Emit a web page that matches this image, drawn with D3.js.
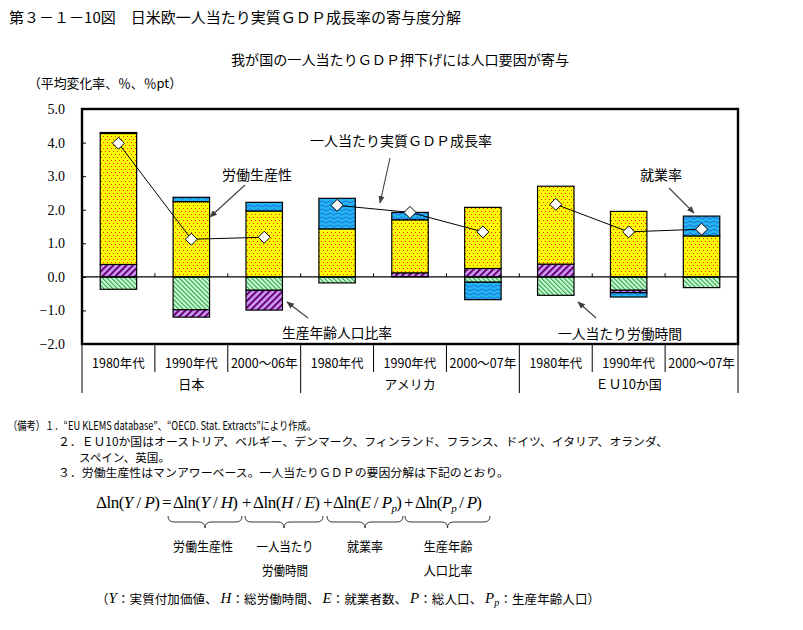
<!DOCTYPE html>
<html>
<head>
<meta charset="utf-8">
<script src="https://cdn.jsdelivr.net/npm/d3@7"></script>
<style>
  body { margin: 0; background: #fff; }
  text { font-family: "Noto Sans CJK JP", sans-serif; fill: #000; }
</style>
</head>
<body>
<script>
// data
var categories = ["1980年代","1990年代","2000～06年","1980年代","1990年代","2000～07年","1980年代","1990年代","2000～07年"];
var groups = ["日本","アメリカ","ＥＵ10か国"];
var hours        = [-0.37,-0.98,-0.40,-0.18, 0.00,-0.16,-0.55,-0.40,-0.32]; // 一人当たり労働時間
var workingAge   = [ 0.37,-0.22,-0.59, 0.00, 0.12, 0.25, 0.38,-0.07, 0.00]; // 生産年齢人口比率
var productivity = [ 3.90, 2.24, 1.96, 1.43, 1.58, 1.82, 2.32, 1.95, 1.22]; // 労働生産性
var employment   = [ 0.03, 0.13, 0.26, 0.91, 0.22,-0.52, 0.00,-0.13, 0.59]; // 就業率
var gdpPerCapita = [ 3.98, 1.12, 1.18, 2.13, 1.92, 1.34, 2.16, 1.34, 1.42]; // 一人当たり実質GDP成長率
var yTicks = [5,4,3,2,1,0,-1,-2];

var width = 803, height = 630;
var svg = d3.select("body").append("svg").attr("width", width).attr("height", height);

var pLeft = 82, pRight = 738, pTop = 109, pBottom = 344;
var xScale = d3.scaleBand().domain(d3.range(categories.length)).range([pLeft, pRight]).paddingInner(0.5).paddingOuter(0.25);
var yScale = d3.scaleLinear().domain([-2, 5]).range([pBottom, pTop]);
var step = xScale.step();

// patterns
var defs = svg.append("defs");
var pDot = defs.append("pattern").attr("id","pDot").attr("patternUnits","userSpaceOnUse").attr("width",4).attr("height",6);
pDot.append("rect").attr("width",4).attr("height",6).attr("fill","#FFFF00");
pDot.append("rect").attr("x",1).attr("y",1).attr("width",1).attr("height",1).attr("fill","#FF2020");
pDot.append("rect").attr("x",3).attr("y",4).attr("width",1).attr("height",1).attr("fill","#FF2020");

var pGreen = defs.append("pattern").attr("id","pGreen").attr("patternUnits","userSpaceOnUse").attr("width",3.2).attr("height",10).attr("patternTransform","rotate(-45)");
pGreen.append("rect").attr("width",3.2).attr("height",10).attr("fill","#CCFFCC");
pGreen.append("rect").attr("width",1.1).attr("height",10).attr("fill","#2E9E5B");

var pPurple = defs.append("pattern").attr("id","pPurple").attr("patternUnits","userSpaceOnUse").attr("width",4.6).attr("height",10).attr("patternTransform","rotate(45)");
pPurple.append("rect").attr("width",4.6).attr("height",10).attr("fill","#CC99FF");
pPurple.append("rect").attr("width",2).attr("height",10).attr("fill","#660066");

var pBlue = defs.append("pattern").attr("id","pBlue").attr("patternUnits","userSpaceOnUse").attr("width",8).attr("height",4);
pBlue.append("rect").attr("width",8).attr("height",4).attr("fill","#1FB8F0");
pBlue.append("path").attr("d","M0,2 Q2,0 4,2 T8,2").attr("fill","none").attr("stroke","#2A5FD8").attr("stroke-width",0.9);

var arrowM = defs.append("marker").attr("id","arr").attr("viewBox","0 0 10 10").attr("refX",9).attr("refY",5)
  .attr("markerWidth",7).attr("markerHeight",7).attr("orient","auto");
arrowM.append("path").attr("d","M0,1 L10,5 L0,9 Z").attr("fill","#404040");

// stacking (Excel style: positives and negatives stacked separately)
var seriesList = [
  {values: hours, fill: "url(#pGreen)"},
  {values: workingAge, fill: "url(#pPurple)"},
  {values: productivity, fill: "url(#pDot)"},
  {values: employment, fill: "url(#pBlue)"}
];
var segs = [];
categories.forEach(function(c, i){
  var pos = 0, neg = 0;
  seriesList.forEach(function(s){
    var v = s.values[i];
    if (v == 0) return;
    if (v > 0) { segs.push({i:i, y0:pos, y1:pos+v, fill:s.fill}); pos += v; }
    else { segs.push({i:i, y0:neg, y1:neg+v, fill:s.fill}); neg += v; }
  });
});

svg.append("g").selectAll("rect").data(segs).enter().append("rect")
  .attr("x", d => xScale(d.i))
  .attr("width", xScale.bandwidth())
  .attr("y", d => yScale(Math.max(d.y0, d.y1)))
  .attr("height", d => Math.abs(yScale(d.y0) - yScale(d.y1)))
  .attr("fill", d => d.fill)
  .attr("stroke", "#000").attr("stroke-width", 1.2);

// zero line + small ticks
svg.append("line").attr("x1",pLeft).attr("x2",pRight).attr("y1",yScale(0)).attr("y2",yScale(0)).attr("stroke","#000").attr("stroke-width",1.4);
svg.append("g").selectAll("line").data(d3.range(1, categories.length)).enter().append("line")
  .attr("x1", d => pLeft + d*step).attr("x2", d => pLeft + d*step)
  .attr("y1", yScale(0) - 3.5).attr("y2", yScale(0)).attr("stroke","#000");

// GDP per capita line, broken between regions
[0,1,2].forEach(function(g){
  var pts = d3.range(g*3, g*3+3);
  svg.append("path").datum(pts)
    .attr("d", d3.line().x(i => xScale(i) + xScale.bandwidth()/2).y(i => yScale(gdpPerCapita[i])))
    .attr("fill","none").attr("stroke","#000").attr("stroke-width",1);
});
svg.append("g").selectAll("path").data(gdpPerCapita).enter().append("path")
  .attr("d","M0,-6 L6,0 L0,6 L-6,0 Z")
  .attr("transform", (d,i) => `translate(${xScale(i) + xScale.bandwidth()/2},${yScale(d)})`)
  .attr("fill","#fff").attr("stroke","#000").attr("stroke-width",1);

// frame
svg.append("rect").attr("x",pLeft).attr("y",pTop).attr("width",pRight-pLeft).attr("height",pBottom-pTop)
  .attr("fill","none").attr("stroke","#000").attr("stroke-width",2.4);

// y axis
var yAxis = d3.axisLeft(yScale).tickValues(yTicks).tickFormat(d3.format(".1f")).tickSizeInner(-4).tickSizeOuter(0).tickPadding(17);
var ya = svg.append("g").attr("transform",`translate(${pLeft},0)`).call(yAxis);
ya.select(".domain").remove();
ya.selectAll("line").attr("stroke","#000");
ya.selectAll("text").style("font-family","'Liberation Serif', serif").style("font-size","14px").attr("fill","#000");

// category table
svg.append("g").selectAll("line").data(d3.range(0, categories.length+1)).enter().append("line")
  .attr("x1", d => pLeft + d*step).attr("x2", d => pLeft + d*step)
  .attr("y1", pBottom).attr("y2", d => d % 3 == 0 ? 393 : 372)
  .attr("stroke","#000").attr("stroke-width",1);
svg.append("g").selectAll("text").data(categories).enter().append("text")
  .attr("x", (d,i) => pLeft + (i+0.5)*step).attr("y", 362)
  .attr("text-anchor","middle").attr("dominant-baseline","central")
  .style("font-size","12.5px").text(d => d);
svg.append("g").selectAll("text").data(groups).enter().append("text")
  .attr("x", (d,i) => pLeft + (i*3+1.5)*step).attr("y", 383)
  .attr("text-anchor","middle").attr("dominant-baseline","central")
  .style("font-size","13px").text(d => d);

// texts
function txt(s, x, y, size, len, anchor){
  var t = svg.append("text").attr("x",x).attr("y",y).attr("dominant-baseline","central")
    .style("font-size", size + "px").text(s);
  if (anchor) t.attr("text-anchor", anchor);
  if (len) t.attr("textLength", len).attr("lengthAdjust","spacingAndGlyphs");
  return t;
}
txt("第３－１－10図　日米欧一人当たり実質ＧＤＰ成長率の寄与度分解", 9, 16, 14.5, 452);
txt("我が国の一人当たりＧＤＰ押下げには人口要因が寄与", 231, 59, 13.5, 338);
txt("（平均変化率、％、％pt）", 28, 82, 13, 154);

// annotations
txt("一人当たり実質ＧＤＰ成長率", 310, 140, 13.5, 182);
txt("労働生産性", 222, 174, 13.5, 70);
txt("生産年齢人口比率", 282, 332, 13.5, 110);
txt("就業率", 640, 174, 13.5, 42);
txt("一人当たり労働時間", 558, 333, 13.5, 124);
var arrows = [[390,158,380,203],[245,185,210,217],[308,318,287,302],[669,188,694,213],[596,318,578,302]];
svg.append("g").selectAll("line").data(arrows).enter().append("line")
  .attr("x1", d => d[0]).attr("y1", d => d[1]).attr("x2", d => d[2]).attr("y2", d => d[3])
  .attr("stroke","#404040").attr("stroke-width",1.1).attr("marker-end","url(#arr)");

// notes
txt("（備考）１．“EU KLEMS database”、“OECD. Stat. Extracts”により作成。", 8, 425, 11.5, 308);
txt("２．ＥＵ10か国はオーストリア、ベルギー、デンマーク、フィンランド、フランス、ドイツ、イタリア、オランダ、", 58, 441, 11.5, 610);
txt("スペイン、英国。", 79, 456.5, 11.5, 91);
txt("３．労働生産性はマンアワーベース。一人当たりＧＤＰの要因分解は下記のとおり。", 58, 472, 11.5, 451);

// formula
var serif = "'Liberation Serif', 'DejaVu Serif', serif";
function term(parts, x, len){
  var t = svg.append("text").attr("x",x).attr("y",508).style("font-family",serif).style("font-size","17px");
  parts.forEach(function(p){
    var ts = t.append("tspan").text(p[0]);
    if (p[1] == "i") ts.style("font-style","italic");
    if (p[1] == "s") ts.style("font-style","italic").style("font-size","11px").attr("dy",4);
    if (p[1] == "u") ts.attr("dy",-4);
  });
  if (len) t.attr("textLength",len).attr("lengthAdjust","spacing");
}
term([["Δln("],["Y","i"],[" / "],["P","i"],[")"]], 96, 64);
term([["="]], 162, 10);
term([["Δln("],["Y","i"],[" / "],["H","i"],[")"]], 173, 65);
term([["+"]], 242, 8);
term([["Δln("],["H","i"],[" / "],["E","i"],[")"]], 253, 67);
term([["+"]], 323, 8);
term([["Δln("],["E","i"],[" / "],["P","i"],["p","s"],[")","u"]], 333, 69);
term([["+"]], 404, 8);
term([["Δln("],["P","i"],["p","s"],[" / ","u"],["P","i"],[")"]], 415, 67);

var braces = [[168,242],[245,323],[327,403],[405,490]];
svg.append("g").selectAll("path").data(braces).enter().append("path")
  .attr("d", function(d){
    var a = d[0], b = d[1], m = (a+b)/2, y0 = 516, y1 = 522, y2 = 528;
    return `M${a},${y0} Q${a},${y1} ${a+6},${y1} L${m-6},${y1} Q${m},${y1} ${m},${y2} Q${m},${y1} ${m+6},${y1} L${b-6},${y1} Q${b},${y1} ${b},${y0}`;
  })
  .attr("fill","none").attr("stroke","#333").attr("stroke-width",1);

txt("労働生産性", 203, 545, 13, 60, "middle");
txt("一人当たり", 285, 545, 13, 57, "middle");
txt("労働時間", 285, 569, 13, 46, "middle");
txt("就業率", 365, 545, 13, 36, "middle");
txt("生産年齢", 448, 545, 13, 49, "middle");
txt("人口比率", 448, 569, 13, 49, "middle");

var last = svg.append("text").attr("x",96).attr("y",598).attr("dominant-baseline","central").style("font-size","12.5px");
var lastParts = [["（"],["Y","i"],["：実質付加価値、 "],["H","i"],["：総労働時間、 "],["E","i"],["：就業者数、 "],["P","i"],["：総人口、 "],["P","i"],["p","s"],["：生産年齢人口）","u"]];
lastParts.forEach(function(p){
  var ts = last.append("tspan").text(p[0]);
  if (p[1] == "i") ts.style("font-family",serif).style("font-style","italic").style("font-size","15px");
  if (p[1] == "s") ts.style("font-family",serif).style("font-style","italic").style("font-size","10px").attr("dy",4);
  if (p[1] == "u") ts.attr("dy",-4);
});
last.attr("textLength",504).attr("lengthAdjust","spacing");
</script>
</body>
</html>
